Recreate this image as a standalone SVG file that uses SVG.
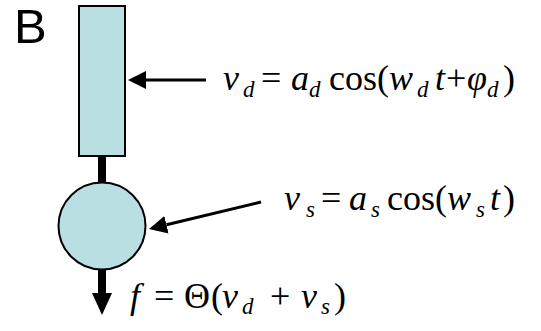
<svg xmlns="http://www.w3.org/2000/svg" width="541" height="331" viewBox="0 0 541 331">
<style>
.shape{fill:#BADFE3;stroke:#000;stroke-width:2}
.eq{font-family:'Liberation Serif','Times New Roman',serif;font-size:36px;fill:#000}
.i{font-style:italic}
.sub{font-style:italic;font-size:23px}
.lbl{font-family:'Liberation Sans',Arial,sans-serif;font-size:49px;fill:#000}
.thin{stroke:#000;stroke-width:3;fill:none}
.thick{stroke:#000;stroke-width:8;fill:none}
</style>
<defs>
<marker id="ah" markerUnits="userSpaceOnUse" markerWidth="18" markerHeight="18" viewBox="0 0 18 18" refX="0" refY="9" orient="auto">
<path d="M0,0 L18,9 L0,18 z" fill="#000"/>
</marker>
<marker id="ahBig" markerUnits="userSpaceOnUse" markerWidth="22" markerHeight="20" viewBox="0 0 22 20" refX="0" refY="10" orient="auto">
<path d="M0,0 L22,10 L0,20 z" fill="#000"/>
</marker>
</defs>
<text class="lbl" x="14" y="43">B</text>
<g id="connectors">
<line x1="102" y1="156" x2="102" y2="184" class="thick"/>
<line x1="102" y1="269" x2="102" y2="293" class="thick" marker-end="url(#ahBig)"/>
<line x1="206" y1="80" x2="146" y2="80" class="thin" marker-end="url(#ah)"/>
<line x1="261" y1="202" x2="166.5" y2="224.8" class="thin" marker-end="url(#ah)"/>
</g>
<g id="dendrite">
<rect x="79" y="6" width="46" height="150" class="shape"/>
</g>
<g id="soma">
<circle cx="102" cy="226" r="43.5" class="shape"/>
</g>
<g id="eq-vd">
<text class="eq" y="90"><tspan class="i" x="223">v</tspan><tspan class="sub" x="243" y="97">d</tspan><tspan x="261" y="90">=</tspan><tspan class="i" x="291">a</tspan><tspan class="sub" x="309" y="97">d</tspan><tspan x="329" y="90">cos(</tspan><tspan class="i" x="389">w</tspan><tspan class="sub" x="417" y="97">d</tspan><tspan class="i" x="435" y="90">t</tspan><tspan x="446">+</tspan><tspan class="i" x="467">φ</tspan><tspan class="sub" x="487" y="97">d</tspan><tspan x="503" y="90">)</tspan></text>
</g>
<g id="eq-vs">
<text class="eq" y="210"><tspan class="i" x="284">v</tspan><tspan class="sub" x="306" y="217">s</tspan><tspan x="321" y="210">=</tspan><tspan class="i" x="349">a</tspan><tspan class="sub" x="371" y="217">s</tspan><tspan x="387" y="210">cos(</tspan><tspan class="i" x="447">w</tspan><tspan class="sub" x="476" y="217">s</tspan><tspan class="i" x="490" y="210">t</tspan><tspan x="503">)</tspan></text>
</g>
<g id="eq-f">
<text class="eq" y="308"><tspan class="i" x="130">f</tspan><tspan x="154">=</tspan><tspan x="184">Θ</tspan><tspan x="211">(</tspan><tspan class="i" x="222">v</tspan><tspan class="sub" x="242" y="314">d</tspan><tspan x="270" y="308">+</tspan><tspan class="i" x="301">v</tspan><tspan class="sub" x="321" y="314">s</tspan><tspan x="334" y="308">)</tspan></text>
</g>
</svg>
